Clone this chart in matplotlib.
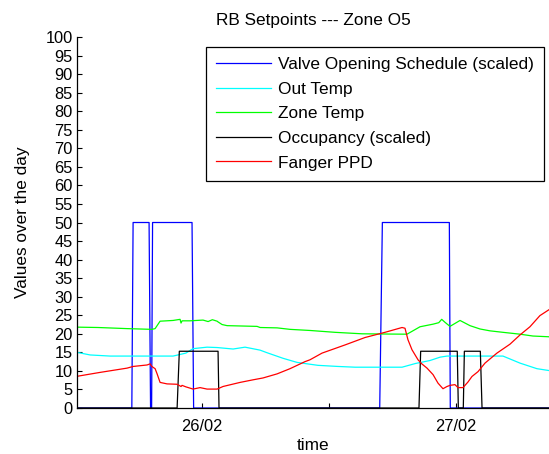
import matplotlib
matplotlib.use("Agg")
import matplotlib.pyplot as plt

plt.rcParams['font.family'] = ['Liberation Sans', 'DejaVu Sans']

# time in hours relative to 26/02 00:00
valve_t = [-11.8, -6.61, -6.49, -4.98, -4.84, -4.74, -4.65, -0.92, -0.77, 16.82, 17.07, 23.40, 23.49, 32.82]
valve_v = [0, 0, 50, 50, 0, 0, 50, 50, 0, 0, 50, 50, 0, 0]

occ_t = [-11.8, -2.33, -2.12, 1.54, 1.63, 20.53, 20.69, 24.15, 24.25, 24.72, 24.82, 26.33, 26.49, 32.82]
occ_v = [0, 0, 15.3, 15.3, 0, 0, 15.3, 15.3, 0, 0, 15.3, 15.3, 0, 0]

out_t = [-11.88, -10.55, -8.66, -2.71, -1.5, -0.82, 0.50, 1.45, 2.96, 4.09, 5.51, 6.17, 7.68,
         9.00, 10.23, 10.99, 12.88, 14.5, 18.93, 20.2, 21.57, 22.52, 23.18, 28.47, 30.08, 31.68, 32.82]
out_v = [15.05, 14.3, 14.0, 14.0, 14.8, 16.0, 16.4, 16.3, 15.9, 16.4, 15.6, 14.9, 13.4,
         12.3, 11.8, 11.5, 11.2, 11.0, 11.0, 12.0, 12.8, 13.7, 14.0, 14.0, 12.1, 10.6, 10.1]

zone_t = [-11.88, -9.80, -7.06, -4.72, -4.41, -3.94, -2.71, -2.05, -1.96, -1.86, -1.11, 0.12, 0.6,
          1.0, 1.45, 1.54, 1.92, 2.39, 5.23, 5.51, 7.12, 8.34, 10.23, 12.60, 15.15, 19.21, 19.4,
          20.63, 21.86, 22.4, 22.68, 22.99, 23.46, 24.41, 25.35, 26.30, 27.24, 28.47, 30.08, 31.30, 32.82]
zone_v = [21.8, 21.7, 21.4, 21.2, 21.4, 23.4, 23.6, 23.9, 22.9, 23.5, 23.5, 23.7, 23.3,
          23.8, 23.4, 23.2, 22.5, 22.2, 22.0, 21.7, 21.6, 21.2, 20.9, 20.4, 20.0, 19.9, 19.9,
          21.9, 22.6, 23.0, 23.9, 23.1, 22.0, 23.6, 22.2, 21.3, 20.8, 20.4, 19.9, 19.4, 19.2]

ppd_t = [-11.88, -9.61, -7.06, -6.49, -5.17, -4.88, -4.72, -4.41, -4.22, -3.94, -3.28, -2.33, -1.96,
         -1.86, -1.5, -0.82, -0.16, 0.50, 1.45, 2.01, 3.62, 4.85, 5.79, 7.12, 8.34, 9.76, 10.23,
         11.37, 13.54, 15.43, 17.32, 18.93, 19.21, 19.49, 19.87, 20.44, 20.8, 21.29, 21.86, 22.33,
         22.80, 23.18, 23.46, 23.93, 24.22, 24.69, 25.16, 25.54, 26.11, 26.77, 27.90, 29.13, 30.08,
         31.02, 31.96, 32.82]
ppd_v = [8.5, 9.6, 10.75, 11.2, 11.6, 11.9, 11.2, 10.6, 9.2, 6.9, 6.5, 6.4, 5.8,
         6.1, 5.7, 5.1, 5.5, 5.1, 5.1, 5.8, 6.9, 7.6, 8.1, 9.2, 10.6, 12.5, 13.0,
         14.8, 17.0, 19.0, 20.4, 21.7, 21.5, 18.4, 15.7, 13.0, 11.9, 10.75, 9.0, 6.7,
         5.2, 5.8, 6.1, 6.3, 5.5, 5.5, 7.0, 8.5, 9.8, 12.1, 14.8, 17.2, 19.7,
         21.9, 24.9, 26.5]

xticks = [0, 12, 24]
xticklabels = ['26/02', '', '27/02']
labels = ['Valve Opening Schedule (scaled)', 'Out Temp', 'Zone Temp', 'Occupancy (scaled)', 'Fanger PPD']

fs = 12.4
fst = 11.8
fig = plt.figure(figsize=(5.49, 4.54), dpi=100)
ax = fig.add_axes([0.1403, 0.1013, 0.8597, 0.8172])
lw = 0.9
ax.plot(valve_t, valve_v, color=(0, 0, 1), lw=lw, label=labels[0])
ax.plot(out_t, out_v, color=(0, 1, 1), lw=lw, label=labels[1])
ax.plot(zone_t, zone_v, color=(0, 1, 0), lw=lw, label=labels[2])
ax.plot(occ_t, occ_v, color='black', lw=lw, label=labels[3])
ax.plot(ppd_t, ppd_v, color=(1, 0, 0), lw=lw, label=labels[4])

ax.set_xlim(-11.79, 32.82)
ax.set_ylim(0, 100)
ax.set_yticks(range(0, 101, 5))
ax.set_xticks(xticks)
ax.set_xticklabels(xticklabels)
ax.tick_params(direction='in', length=3.5, width=0.8, labelsize=fst, colors='black', pad=3)
ax.tick_params(axis='x', pad=8)
for s in ['top', 'right']:
    ax.spines[s].set_visible(False)
for s in ['left', 'bottom']:
    ax.spines[s].set_linewidth(0.9)

ax.set_title('RB Setpoints --- Zone O5', fontsize=fs, pad=9)
ax.set_xlabel('time', fontsize=fs, labelpad=3)
ax.set_ylabel('Values over the day', fontsize=fs, labelpad=11)

leg = ax.legend(loc='upper right', bbox_to_anchor=(0.989, 0.973), borderaxespad=0,
                fancybox=False, framealpha=1, edgecolor='black', fontsize=fs,
                handlelength=3.2, handletextpad=0.36, labelspacing=0.55, borderpad=0.6)
leg.get_frame().set_linewidth(0.9)

fig.savefig('out.png', dpi=100)
